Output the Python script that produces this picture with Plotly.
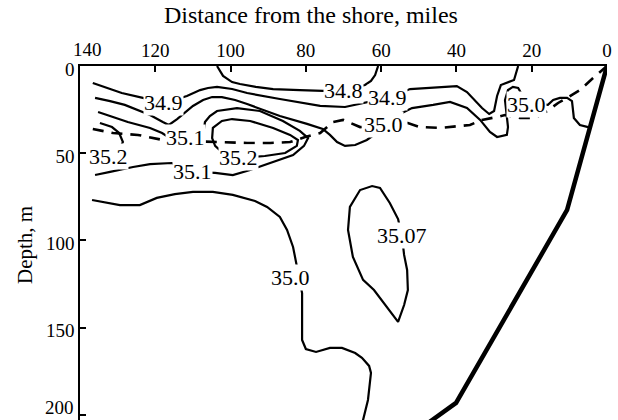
import plotly.graph_objects as go

# Salinity section across the shelf: distance offshore (miles) vs depth (m)

# 34.8 isohaline
s348_x = [103.6, 102.0, 99.6, 97.5, 93.3, 88.7, 81.6, 75.5, 70.1, 66.2, 64.3, 62.7, 61.6, 60.8]
s348_y = [0, 5.7, 9.2, 10.3, 12.0, 13.2, 13.8, 14.3, 13.8, 12.0, 10.9, 8.6, 5.2, 0]

# 34.9 isohaline
s349_x = [136.6, 132.6, 128.9, 123.3, 117.7, 111.6, 108.1, 106.0, 103.6, 99.6, 95.6, 86.9, 76.2,
          69.6, 63.8, 58.4, 52.3, 44.4, 39.9, 37.2, 33.2, 31.3, 30.0, 29.2, 28.2, 24.7, 23.9, 23.6]
s349_y = [9.7, 12.6, 15.5, 18.3, 21.2, 17.2, 13.8, 12.6, 12.0, 13.2, 15.5, 18.9, 22.9,
          23.5, 20.6, 18.3, 13.2, 12.0, 11.5, 14.9, 24.1, 27.5, 25.8, 17.2, 10.9, 8.0, 1.1, 0]

# 35.0 isohaline, upper branch
s350u_x = [136.0, 132.0, 128.1, 121.4, 118.0, 116.4, 114.2, 110.0, 107.3, 104.9, 102.3, 98.8, 95.6,
           86.9, 79.7, 75.5, 73.6, 71.7, 69.6, 66.9, 63.8, 59.0, 55.0, 51.8, 46.2, 41.7, 37.2,
           33.7, 31.1, 29.2, 26.6, 26.3, 26.6, 27.1, 26.3, 25.0, 23.6, 21.3, 15.7, 14.3, 12.5,
           10.6, 9.3, 9.0, 8.8, 7.2, 5.0]
s350u_y = [18.3, 20.1, 22.3, 28.1, 32.1, 33.8, 30.4, 22.9, 19.5, 17.8, 17.8, 19.5, 21.8,
           28.7, 33.2, 36.1, 39.5, 43.6, 45.8, 45.3, 42.4, 35.0, 27.5, 24.1, 22.3, 20.6, 24.1,
           30.9, 37.8, 40.7, 39.5, 35.0, 29.2, 19.5, 13.8, 12.0, 12.6, 21.2, 22.3, 19.5, 18.3,
           18.3, 20.1, 25.2, 29.8, 33.8, 35.0]

# 35.1 isohaline
s351_x = [135.2, 131.2, 127.3, 121.4, 118.2, 116.6, 112.1, 107.6, 107.3, 106.8, 105.5, 103.6, 98.3,
          92.2, 86.1, 81.6, 79.4, 80.5, 83.4, 87.7, 94.8, 99.4, 104.1, 110.0, 115.6, 121.4,
          125.9, 132.0, 136.0]
s351_y = [26.4, 29.2, 32.1, 35.5, 38.4, 40.7, 41.3, 44.1, 38.4, 32.1, 28.7, 25.8, 24.1,
          25.8, 31.5, 37.2, 41.3, 45.8, 51.0, 54.4, 59.6, 62.5, 61.3, 60.7, 55.6, 56.2,
          57.9, 60.7, 62.5]

# 35.2 isohaline near the offshore end
s352a_x = [134.7, 131.5, 129.6, 128.6, 129.9, 132.3]
s352a_y = [32.7, 35.0, 38.4, 43.6, 49.3, 52.1]

# 35.2 closed core
s352b_x = [98.0, 102.3, 104.1, 104.9, 104.7, 102.3, 99.6, 94.8, 88.7, 84.2, 82.1, 82.4, 85.5, 90.9, 98.0]
s352b_y = [52.7, 49.3, 45.8, 41.3, 35.5, 31.5, 30.4, 31.5, 35.5, 39.5, 42.4, 45.8, 49.9, 51.6, 52.7]

# 35.0 isohaline, lower branch
s350l_x = [136.8, 129.4, 124.1, 119.6, 114.8, 110.0, 104.7, 99.4, 93.5, 90.3, 86.9, 85.0, 83.4,
           82.4, 81.6, 81.0, 81.0, 81.0, 80.0, 77.3, 73.6, 70.4, 66.9, 65.1, 63.2, 62.7, 63.5,
           64.8, 65.1]
s350l_y = [76.8, 79.7, 79.7, 75.6, 73.4, 72.2, 72.2, 73.9, 77.4, 80.8, 86.5, 94.0, 103.7,
           114.0, 122.6, 130.1, 145.6, 157.0, 162.2, 163.9, 161.6, 161.6, 164.5, 167.3, 171.9,
           175.9, 191.4, 202.9, 208.6]

# 35.07 closed lens
s3507_x = [54.5, 55.5, 57.7, 60.3, 62.4, 65.6, 68.3, 68.8, 67.5, 64.8, 61.9, 58.4, 55.5,
           53.9, 52.9, 53.1, 53.9, 54.2, 54.5]
s3507_y = [97.4, 87.7, 78.5, 69.9, 68.8, 71.1, 80.8, 94.0, 109.5, 122.6, 128.4, 138.7, 146.7,
           137.0, 128.4, 116.9, 108.3, 102.6, 97.4]

# 35.0 isohaline from the second survey (dashed)
dash_x = [136.6, 131.2, 124.6, 118.0, 112.1, 105.5, 95.6, 89.5, 84.2, 80.2, 76.2, 72.8, 70.1,
          65.6, 59.5, 52.9, 49.7, 44.4, 36.4, 33.2, 29.2, 27.1, 23.1, 19.1, 15.9, 13.0, 10.6,
          7.2, 3.7, 0]
dash_y = [36.1, 38.4, 39.5, 42.4, 43.0, 43.6, 44.1, 44.1, 43.6, 40.7, 38.4, 32.1, 30.9,
          35.0, 33.8, 32.7, 35.0, 35.5, 33.8, 30.9, 29.2, 28.1, 29.8, 29.8, 25.8, 21.2, 18.3,
          13.8, 6.9, 0]

# Sea floor
bottom_x = [0, 10.6, 40.1, 46.5, 49.7]
bottom_y = [0, 82.5, 193.1, 202.9, 208.0]

# Isoline labels
label_text = ["34.8", "34.9", "34.9", "35.0", "35.0", "35.1", "35.1", "35.2", "35.2", "35.07", "35.0"]
label_x = [70.1, 117.7, 58.4, 59.5, 21.3, 112.1, 110.0, 132.3, 98.0, 54.5, 84.0]
label_y = [13.8, 21.2, 18.3, 33.8, 22.3, 40.7, 60.7, 52.1, 52.7, 97.4, 121.5]

x_ticks = [140, 120, 100, 80, 60, 40, 20, 0]
x_ticktext = ["", "120", "100", "80", "60", "40", "20", "0"]
y_ticks = [0, 50, 100, 150, 200]
y_ticktext = ["0", "50", "100", "150", ""]

FONT = "Liberation Serif"
INK = "black"

fig = go.Figure()

solid = [
    (s348_x, s348_y), (s349_x, s349_y), (s350u_x, s350u_y), (s351_x, s351_y),
    (s352a_x, s352a_y), (s352b_x, s352b_y), (s350l_x, s350l_y), (s3507_x, s3507_y),
]
for xs, ys in solid:
    fig.add_trace(go.Scatter(x=xs, y=ys, mode="lines",
                             line=dict(color=INK, width=2.2), hoverinfo="skip"))

fig.add_trace(go.Scatter(x=dash_x, y=dash_y, mode="lines",
                         line=dict(color=INK, width=2.6, dash="11px,8px"), hoverinfo="skip"))

fig.add_trace(go.Scatter(x=bottom_x, y=bottom_y, mode="lines",
                         line=dict(color=INK, width=4.5), hoverinfo="skip"))

for t, lx, ly in zip(label_text, label_x, label_y):
    fig.add_annotation(x=lx, y=ly, xref="x", yref="y", text=t, showarrow=False,
                       font=dict(family=FONT, size=22, color=INK),
                       bgcolor="white", borderpad=0)

# First distance tick label, nudged clear of the depth "0"
fig.add_annotation(x=(87 - 80) / 527, y=1 + 17 / 354, xref="paper", yref="paper",
                   text="140", showarrow=False, xanchor="center", yanchor="middle",
                   font=dict(family=FONT, size=19, color=INK))

# Last depth tick label, lifted to stay inside the lower edge of the frame
fig.add_annotation(x=-(80 - 76) / 527, y=200, xref="paper", yref="y",
                   text="200", showarrow=False, xanchor="right", yanchor="middle",
                   yshift=7, font=dict(family=FONT, size=19, color=INK))

# Axis titles
fig.add_annotation(x=(311 - 80) / 527, y=1 + 51 / 354, xref="paper", yref="paper",
                   text="Distance from the shore, miles", showarrow=False,
                   xanchor="center", yanchor="middle",
                   font=dict(family=FONT, size=24, color=INK))
fig.add_annotation(x=-(80 - 25) / 527, y=(420 - 245) / 354, xref="paper", yref="paper",
                   text="Depth, m", showarrow=False, textangle=-90,
                   xanchor="center", yanchor="middle",
                   font=dict(family=FONT, size=21, color=INK))

fig.update_layout(
    width=618, height=420,
    margin=dict(l=80, r=11, t=66, b=0),
    paper_bgcolor="white", plot_bgcolor="white",
    showlegend=False,
    font=dict(family=FONT, size=19, color=INK),
)
fig.update_xaxes(side="top", range=[140, 0], tickvals=x_ticks, ticktext=x_ticktext,
                 ticks="inside", ticklen=6,
                 tickwidth=1.5, tickcolor=INK, showline=True, linecolor=INK, linewidth=1.5,
                 showgrid=False, zeroline=False, automargin=False,
                 tickfont=dict(family=FONT, size=19, color=INK))
fig.update_yaxes(range=[202.9, 0], tickvals=y_ticks, ticktext=y_ticktext, ticks="inside",
                 ticklen=6, ticklabelshift=-3,
                 tickwidth=1.5, tickcolor=INK, showline=True, linecolor=INK, linewidth=1.5,
                 showgrid=False, zeroline=False, automargin=False,
                 tickfont=dict(family=FONT, size=19, color=INK))

fig.write_html("out.html")
